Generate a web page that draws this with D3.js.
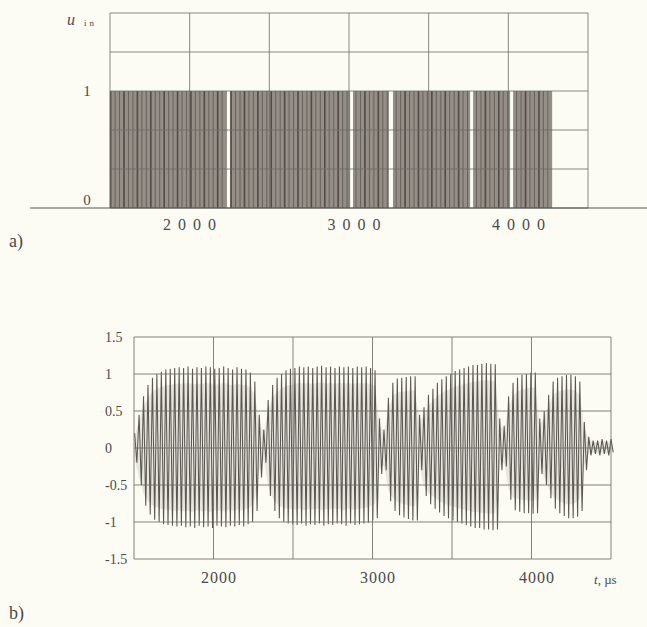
<!DOCTYPE html>
<html>
<head>
<meta charset="utf-8">
<script src="https://cdn.jsdelivr.net/npm/d3@7"></script>
<style>
  body { margin: 0; background: #fcfcf5; }
  svg { display: block; }
  text { font-family: "Liberation Serif", "DejaVu Serif", serif; fill: #4a4a4a; }
</style>
</head>
<body>
<div id="chart"></div>
<script>
// time axis (µs), shared by both panels
var tDomain = [1500, 4500];
var gridT = [1500, 2000, 2500, 3000, 3500, 4000, 4500];
var labelT = [2000, 3000, 4000];

// a) input pulse train: intervals where u_in = 1
var onIntervals = [
  [1500, 2234], [2253, 3007], [3025, 3251],
  [3276, 3760], [3779, 4011], [4030, 4275]
];
var uGrid = [0, 1 / 3, 2 / 3, 1, 4 / 3, 5 / 3];
var uTicks = [0, 1];

// b) response: sampled every 28 µs, positive peak then negative peak
var sampleStart = 1504;
var sampleStep = 28;
var peakHi = [
  0.2, 0.45, 0.7, 0.85, 0.95, 1.0, 1.03, 1.06, 1.07, 1.08,
  1.09, 1.08, 1.1, 1.07, 1.09, 1.08, 1.1, 1.09, 1.07, 1.08,
  1.1, 1.08, 1.06, 1.09, 1.07, 1.06, 1.02, 0.9, 0.45,
  0.25,
  0.65, 0.85, 0.95, 1.0, 1.05, 1.07, 1.08, 1.1, 1.09, 1.1,
  1.08, 1.1, 1.11, 1.09, 1.1, 1.08, 1.1, 1.09, 1.1, 1.08,
  1.1, 1.09, 1.1, 1.08, 1.05, 0.4,
  0.25,
  0.68, 0.88, 0.94, 0.95, 0.96, 0.97, 0.97,
  0.45,
  0.55, 0.72, 0.8, 0.88, 0.93, 0.97, 1.0, 1.04, 1.06, 1.08,
  1.1, 1.12, 1.12, 1.14, 1.15, 1.14, 1.13,
  0.4, 0.3,
  0.7, 0.88, 0.95, 0.99, 1.0, 1.02, 1.02,
  0.4,
  0.5, 0.72, 0.9, 0.95, 0.97, 0.99, 0.99, 0.97, 0.9, 0.35,
  0.15, 0.1, 0.1, 0.12, 0.1, 0.12
];
var peakLo = [
  -0.2, -0.5, -0.78, -0.9, -0.97, -1.0, -1.03, -1.04, -1.05, -1.06,
  -1.05, -1.07, -1.06, -1.08, -1.05, -1.07, -1.06, -1.08, -1.05, -1.06,
  -1.07, -1.05, -1.06, -1.04, -1.06, -1.03, -1.0, -0.85, -0.4,
  -0.2,
  -0.65, -0.85, -0.95, -1.0, -1.02, -1.03, -1.04, -1.02, -1.05, -1.03,
  -1.04, -1.02, -1.05, -1.03, -1.04, -1.02, -1.03, -1.05, -1.02, -1.04,
  -1.03, -1.02, -1.01, -0.98, -0.95, -0.35,
  -0.3,
  -0.72, -0.85, -0.91, -0.94, -0.96, -0.98, -0.98,
  -0.3,
  -0.65, -0.76, -0.82, -0.87, -0.92, -0.95, -0.98, -1.0, -1.02, -1.04,
  -1.06, -1.08, -1.08, -1.1, -1.1, -1.11, -1.1,
  -0.3, -0.25,
  -0.7, -0.84, -0.86, -0.88, -0.88, -0.89, -0.88,
  -0.35,
  -0.5, -0.68, -0.82, -0.88, -0.92, -0.95, -0.95, -0.93, -0.85, -0.3,
  -0.1, -0.08, -0.1, -0.08, -0.1, -0.06
];
var vGrid = [-1.5, -1, -0.5, 0, 0.5, 1, 1.5];
var vTickLabels = ["-1.5", "-1", "-0.5", "0", "0.5", "1", "1.5"];

var svgWidth = 647;
var svgHeight = 627;

var svg = d3.select("#chart")
  .append("svg")
  .attr("width", svgWidth)
  .attr("height", svgHeight);

svg.append("rect")
  .attr("width", svgWidth)
  .attr("height", svgHeight)
  .attr("fill", "#fcfcf5");

var gridColor = "#6e6d68";

// ---------- panel a ----------
var xA = d3.scaleLinear().domain(tDomain).range([110, 588]);
var yA = d3.scaleLinear().domain([0, 5 / 3]).range([208, 13]);
var xLabelA = d3.scaleLinear().domain([2000, 4000]).range([193, 522]);

var panelA = svg.append("g");

// pulse blocks
panelA.selectAll("rect.on")
  .data(onIntervals)
  .enter()
  .append("rect")
  .attr("class", "on")
  .attr("x", d => xA(d[0]))
  .attr("y", yA(1))
  .attr("width", d => xA(d[1]) - xA(d[0]))
  .attr("height", yA(0) - yA(1))
  .attr("fill", "#948e86");

// individual pulses inside the blocks
var pulseTimes = [];
onIntervals.forEach(function(iv) {
  for (var i = 0; i < peakHi.length; i++) {
    var t = sampleStart + i * sampleStep;
    if (t > iv[0] + 3 && t < iv[1] - 3) pulseTimes.push({ t: t, i: i });
  }
});
panelA.selectAll("line.pulse")
  .data(pulseTimes)
  .enter()
  .append("line")
  .attr("x1", d => xA(d.t))
  .attr("x2", d => xA(d.t))
  .attr("y1", yA(1))
  .attr("y2", yA(0))
  .attr("stroke", "#4a453f")
  .attr("stroke-width", d => (d.i % 3 === 0 ? 1.6 : 1))
  .attr("opacity", d => (d.i % 3 === 0 ? 0.9 : 0.6));

// grid
panelA.selectAll("line.hg")
  .data(uGrid)
  .enter()
  .append("line")
  .attr("x1", xA(tDomain[0]))
  .attr("x2", xA(tDomain[1]))
  .attr("y1", d => yA(d))
  .attr("y2", d => yA(d))
  .attr("stroke", gridColor)
  .attr("stroke-width", 1)
  .attr("opacity", 0.8);

panelA.selectAll("line.vg")
  .data(gridT)
  .enter()
  .append("line")
  .attr("x1", d => xA(d))
  .attr("x2", d => xA(d))
  .attr("y1", yA(5 / 3))
  .attr("y2", yA(0))
  .attr("stroke", gridColor)
  .attr("stroke-width", 1)
  .attr("opacity", 0.8);

// long baseline
panelA.append("line")
  .attr("x1", 30)
  .attr("x2", svgWidth)
  .attr("y1", yA(0))
  .attr("y2", yA(0))
  .attr("stroke", "#55544f")
  .attr("stroke-width", 1.2);

panelA.selectAll("text.ytick")
  .data(uTicks)
  .enter()
  .append("text")
  .attr("x", 87)
  .attr("y", d => yA(d) + (d === 0 ? -3 : 5))
  .attr("text-anchor", "middle")
  .attr("font-size", 15)
  .text(d => d);

panelA.selectAll("text.xtick")
  .data(labelT)
  .enter()
  .append("text")
  .attr("x", d => xLabelA(d))
  .attr("y", 230)
  .attr("text-anchor", "middle")
  .attr("font-size", 16)
  .attr("letter-spacing", 7)
  .text(d => d);

panelA.append("text")
  .attr("x", 67)
  .attr("y", 25)
  .attr("font-size", 16)
  .attr("font-style", "italic")
  .text("u");
panelA.append("text")
  .attr("x", 84)
  .attr("y", 26)
  .attr("font-size", 9)
  .attr("letter-spacing", 3)
  .text("in");

svg.append("text")
  .attr("x", 9)
  .attr("y", 247)
  .attr("font-size", 18)
  .text("a)");

// ---------- panel b ----------
var xB = d3.scaleLinear().domain(tDomain).range([134, 611]);
var yB = d3.scaleLinear().domain([-1.5, 1.5]).range([559, 337]);

var panelB = svg.append("g");

// waveform: zig-zag through positive and negative peaks
var wave = [];
peakHi.forEach(function(v, i) {
  var t = sampleStart + i * sampleStep;
  wave.push([t, v]);
  wave.push([t + sampleStep / 2, peakLo[i]]);
});

// faint tone over the region covered by the oscillation
var envArea = d3.area()
  .x((d, i) => xB(sampleStart + i * sampleStep))
  .y0((d, i) => yB(peakLo[i] * 0.8))
  .y1(d => yB(d * 0.8));

panelB.append("path")
  .datum(peakHi)
  .attr("d", envArea)
  .attr("fill", "#8a857e")
  .attr("opacity", 0.18);

var waveLine = d3.line()
  .x(d => xB(d[0]))
  .y(d => yB(d[1]));

panelB.append("path")
  .datum(wave)
  .attr("d", waveLine)
  .attr("fill", "none")
  .attr("stroke", "#5a5752")
  .attr("stroke-width", 1.05);

// grid
panelB.selectAll("line.hg")
  .data(vGrid)
  .enter()
  .append("line")
  .attr("x1", xB(tDomain[0]))
  .attr("x2", xB(tDomain[1]))
  .attr("y1", d => yB(d))
  .attr("y2", d => yB(d))
  .attr("stroke", gridColor)
  .attr("stroke-width", 1)
  .attr("opacity", 0.85);

panelB.selectAll("line.vg")
  .data(gridT)
  .enter()
  .append("line")
  .attr("x1", d => xB(d))
  .attr("x2", d => xB(d))
  .attr("y1", yB(1.5))
  .attr("y2", yB(-1.5))
  .attr("stroke", gridColor)
  .attr("stroke-width", 1)
  .attr("opacity", 0.85);

panelB.selectAll("text.ytick")
  .data(vGrid)
  .enter()
  .append("text")
  .attr("x", 105)
  .attr("y", d => yB(d) + 5)
  .attr("text-anchor", "start")
  .attr("font-size", 14)
  .text((d, i) => vTickLabels[i]);

panelB.selectAll("text.xtick")
  .data(labelT)
  .enter()
  .append("text")
  .attr("x", d => xB(d) + 5.5)
  .attr("y", 583)
  .attr("text-anchor", "middle")
  .attr("font-size", 16)
  .attr("letter-spacing", 1)
  .text(d => d);

var unit = panelB.append("text")
  .attr("x", 594)
  .attr("y", 584)
  .attr("font-size", 13);
unit.append("tspan").attr("font-style", "italic").text("t");
unit.append("tspan").text(", µs");

svg.append("text")
  .attr("x", 9)
  .attr("y", 619)
  .attr("font-size", 18)
  .text("b)");
</script>
</body>
</html>
